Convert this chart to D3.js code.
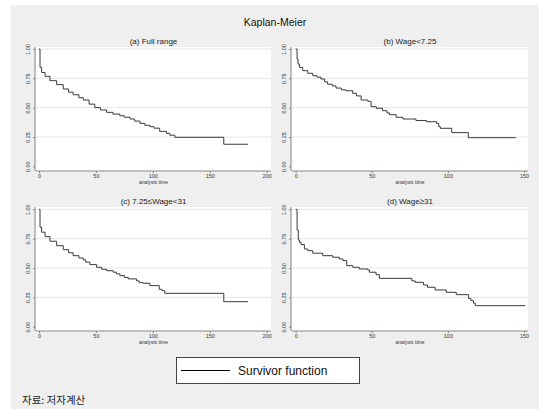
<!DOCTYPE html>
<html>
<head>
<meta charset="utf-8">
<script src="https://cdn.jsdelivr.net/npm/d3@7"></script>
<style>
  body { margin: 0; background: #fff; }
  svg { display: block; font-family: "Liberation Sans", Arial, sans-serif; }
</style>
</head>
<body>
<svg id="chart" width="539" height="409"></svg>
<script>
// Kaplan-Meier survivor estimates, [analysis time, S(t)]
const fullRange = [[0,1],[0.9,0.844],[2.3,0.80],[5.3,0.767],[9.6,0.73],[15.5,0.696],[21.3,0.659],[26,0.632],[30,0.61],[35,0.585],[38.9,0.565],[44,0.53],[49,0.50],[54,0.48],[59.4,0.46],[65,0.445],[71,0.431],[75,0.418],[80,0.403],[84,0.385],[88.6,0.366],[93,0.35],[97.4,0.338],[101,0.325],[106,0.298],[112,0.281],[115,0.265],[119.3,0.247],[162.3,0.188],[183.6,0.188]];
const wageLow = [[0,1],[0.9,0.915],[1.5,0.872],[2.4,0.844],[4.6,0.815],[7.9,0.793],[11.2,0.772],[14,0.76],[16.6,0.744],[19,0.72],[21,0.70],[24,0.685],[26.5,0.667],[30,0.652],[33,0.644],[37.5,0.622],[40,0.60],[43,0.565],[47.4,0.554],[49.5,0.508],[53,0.495],[57,0.474],[60,0.455],[61.6,0.44],[66,0.418],[70.4,0.403],[79,0.39],[86,0.38],[92.6,0.366],[94,0.338],[95,0.324],[102.5,0.287],[113.4,0.244],[144.7,0.244]];
const wageMid = [[0,1],[0.9,0.847],[2.3,0.805],[5.3,0.767],[9.6,0.728],[15.5,0.69],[21.3,0.656],[26,0.63],[30,0.605],[35,0.585],[38.9,0.569],[41,0.55],[44.7,0.529],[50.6,0.506],[55,0.49],[59.4,0.477],[65.2,0.464],[68,0.45],[71,0.435],[75,0.42],[78.4,0.407],[85.7,0.39],[88,0.375],[91.5,0.37],[97.4,0.35],[105.6,0.318],[108,0.307],[110.5,0.284],[162.3,0.213],[183.6,0.213]];
const wageHigh = [[0,1],[0.9,0.824],[1.7,0.739],[2.4,0.72],[3.5,0.70],[5.7,0.662],[7.9,0.648],[11.2,0.626],[17.8,0.605],[24.3,0.592],[28.7,0.577],[31,0.563],[33.5,0.52],[37.5,0.506],[41.8,0.492],[47.4,0.483],[48.4,0.464],[52.8,0.443],[55,0.412],[76.3,0.39],[78.5,0.378],[84,0.355],[86.6,0.336],[91.6,0.313],[98.9,0.293],[105.5,0.273],[113.6,0.24],[115.1,0.222],[116.8,0.2],[118,0.179],[150.9,0.179]];

const panelTitles = ["(a) Full range", "(b) Wage<7.25", "(c) 7.25\u2264Wage<31", "(d) Wage\u226531"];
const yTicks = [0, 0.25, 0.5, 0.75, 1];
const xTicksWide = [0, 50, 100, 150, 200];
const xTicksNarrow = [0, 50, 100, 150];

const svg = d3.select("#chart");

// gray graph region
svg.append("rect").attr("x", 11).attr("y", 5).attr("width", 528).attr("height", 404).attr("fill", "#efefef");

svg.append("text").attr("x", 275).attr("y", 26).attr("text-anchor", "middle")
  .attr("font-size", 10.5).attr("fill", "#111").text("Kaplan-Meier");

const panels = [
  { data: fullRange, title: panelTitles[0], ticks: xTicksWide, xMax: 200, left: 36, right: 271, top: 47, bottom: 171, x0: 39, x1: 266.7, y0: 166.3, y1: 49 },
  { data: wageLow, title: panelTitles[1], ticks: xTicksNarrow, xMax: 150, left: 292, right: 528, top: 47, bottom: 171, x0: 295.7, x1: 524, y0: 166.3, y1: 49 },
  { data: wageMid, title: panelTitles[2], ticks: xTicksWide, xMax: 200, left: 36, right: 271, top: 207, bottom: 331, x0: 39, x1: 266.7, y0: 326.7, y1: 209.3 },
  { data: wageHigh, title: panelTitles[3], ticks: xTicksNarrow, xMax: 150, left: 292, right: 528, top: 207, bottom: 331, x0: 295.7, x1: 524, y0: 326.7, y1: 209.3 }
];

panels.forEach(p => {
  const x = d3.scaleLinear().domain([0, p.xMax]).range([p.x0, p.x1]);
  const y = d3.scaleLinear().domain([0, 1]).range([p.y0, p.y1]);
  const g = svg.append("g");

  g.append("rect").attr("x", p.left).attr("y", p.top)
    .attr("width", p.right - p.left).attr("height", p.bottom - p.top).attr("fill", "#fff");

  g.selectAll(".grid").data(yTicks.filter(d => d > 0)).join("line")
    .attr("x1", p.left).attr("x2", p.right)
    .attr("y1", d => y(d)).attr("y2", d => y(d))
    .attr("stroke", "#e6e6e6").attr("stroke-width", 1);

  const yAxis = g.append("g").attr("transform", `translate(${p.left - 1},0)`)
    .call(d3.axisLeft(y).tickValues(yTicks).tickFormat(d3.format(".2f")).tickSize(2).tickPadding(2));
  yAxis.select(".domain").attr("stroke", "#888").attr("d", `M0,${p.top}V${p.bottom}`);
  yAxis.selectAll(".tick line").attr("stroke", "#888");
  yAxis.selectAll(".tick text")
    .attr("font-size", 5.5).attr("fill", "#333")
    .attr("text-anchor", "middle").attr("x", 0).attr("dy", 0)
    .attr("transform", "translate(-5,0) rotate(-90)");

  const xAxis = g.append("g").attr("transform", `translate(0,${p.bottom})`)
    .call(d3.axisBottom(x).tickValues(p.ticks).tickSize(2).tickPadding(1));
  xAxis.select(".domain").attr("stroke", "#888").attr("d", `M${p.left},0H${p.right}`);
  xAxis.selectAll(".tick line").attr("stroke", "#888");
  xAxis.selectAll(".tick text").attr("font-size", 5.5).attr("fill", "#333");

  g.append("text").attr("x", (p.left + p.right) / 2).attr("y", p.bottom + 13)
    .attr("text-anchor", "middle").attr("font-size", 5).attr("fill", "#333").text("analysis time");

  g.append("text").attr("x", (p.left + p.right) / 2).attr("y", p.top - 3)
    .attr("text-anchor", "middle").attr("font-size", 8).attr("fill", "#222").text(p.title);

  const line = d3.line().curve(d3.curveStepAfter).x(d => x(d[0])).y(d => y(d[1]));
  g.append("path").datum(p.data).attr("d", line)
    .attr("fill", "none").attr("stroke", "#3a3a3a").attr("stroke-width", 1);
});

// legend
const legend = svg.append("g");
legend.append("rect").attr("x", 176.5).attr("y", 357.5).attr("width", 183).attr("height", 26)
  .attr("fill", "#fff").attr("stroke", "#444").attr("stroke-width", 1);
legend.append("line").attr("x1", 181).attr("x2", 230).attr("y1", 370.5).attr("y2", 370.5)
  .attr("stroke", "#000").attr("stroke-width", 1);
legend.append("text").attr("x", 238).attr("y", 375).attr("font-size", 12).attr("fill", "#111").text("Survivor function");

svg.append("text").attr("x", 22).attr("y", 404)
  .attr("font-family", "'Noto Sans CJK KR', sans-serif").attr("font-size", 10.5).attr("fill", "#222")
  .text("자료: 저자계산");
</script>
</body>
</html>
